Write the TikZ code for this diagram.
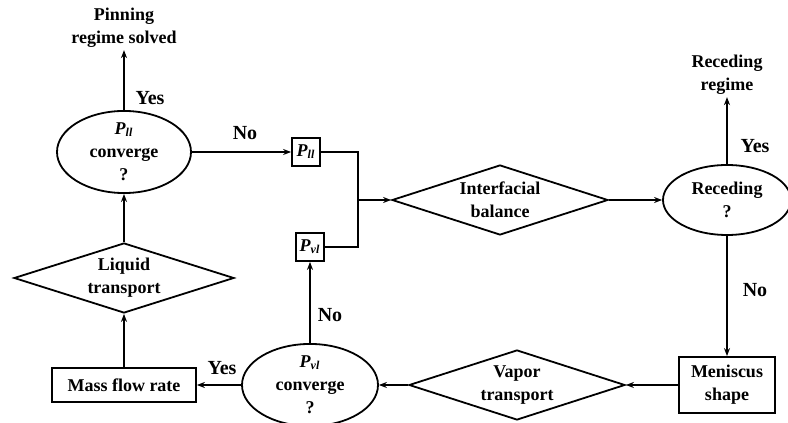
\documentclass[tikz,border=0pt]{standalone}
\usepackage{fontspec}
\setmainfont{Liberation Serif}
\usetikzlibrary{shapes.geometric,arrows.meta}
\newcommand{\pvar}[1]{\textit{P}\textsubscript{\textit{#1}}}
\tikzset{
    ellbox/.style={ellipse, draw, line width=0.9pt, inner sep=0pt, align=center,
        font=\fontsize{9}{11.5}\selectfont\bfseries},
    diabox/.style={diamond, draw, line width=0.9pt, inner sep=0pt, align=center, aspect=3,
        minimum width=108pt, minimum height=35pt, font=\fontsize{9}{11.5}\selectfont\bfseries},
    rectbox/.style={rectangle, draw, line width=0.9pt, inner sep=2pt, align=center,
        font=\fontsize{9}{11.5}\selectfont\bfseries},
    endtext/.style={align=center, inner sep=1pt, font=\fontsize{9}{11.5}\selectfont\bfseries},
    lbl/.style={font=\fontsize{10}{12}\selectfont\bfseries},
    flow/.style={-{Stealth[length=4pt,width=3pt]}, line width=0.7pt}
}
\begin{document}
\begin{tikzpicture}[x=0.5pt, y=0.5pt]
    \useasboundingbox (0,0) rectangle (788,423);
    % Top row: liquid pressure check and interfacial balance
    \node[endtext] (pin) at (124,395) {Pinning\\regime solved};
    \node[ellbox, minimum width=67pt, minimum height=36pt] (lconv) at (124,271) {\pvar{ll}\\converge\\?};
    \node[rectbox, minimum size=14pt, inner sep=1pt] (pll) at (306,271) {\pvar{ll}};
    \coordinate (jn) at (358,223);
    \node[diabox] (ibal) at (500,223) {Interfacial\\balance};
    \node[ellbox, minimum width=64pt, minimum height=35pt] (recd) at (727,223) {Receding\\?};
    \node[endtext] (recreg) at (727,348) {Receding\\regime};
    % Bottom row: meniscus and vapor side
    \node[rectbox, minimum width=48pt, minimum height=28pt] (menis) at (727,38) {Meniscus\\shape};
    \node[diabox] (vap) at (517,38) {Vapor\\transport};
    \node[ellbox, minimum width=68pt, minimum height=35pt] (vconv) at (310,38) {\pvar{vl}\\converge\\?};
    \node[rectbox, minimum size=14pt, inner sep=1pt] (pvl) at (310,176) {\pvar{vl}};
    \node[rectbox, minimum width=72pt, minimum height=17pt] (mass) at (124,38) {Mass flow rate};
    \node[diabox, minimum width=110pt] (liq) at (124,145) {Liquid\\transport};
    % Connectors
    \draw[flow] (lconv.north) -- (pin.south);
    \node[lbl] (yes1) at (150,325) {Yes};
    \draw[flow] (lconv.east) -- (pll.west);
    \node[lbl] (no1) at (245,290) {No};
    \draw[flow] (pll.east) -| (jn) -- (ibal.west);
    \draw[line width=0.7pt] (pvl.east) -| (jn);
    \draw[flow] (ibal.east) -- (recd.west);
    \draw[flow] (recd.north) -- (recreg.south);
    \node[lbl] (yes2) at (755,277) {Yes};
    \draw[flow] (recd.south) -- (menis.north);
    \node[lbl] (no2) at (755,133) {No};
    \draw[flow] (menis.west) -- (vap.east);
    \draw[flow] (vap.west) -- (vconv.east);
    \draw[flow] (vconv.north) -- (pvl.south);
    \node[lbl] (no3) at (330,108) {No};
    \draw[flow] (vconv.west) -- (mass.east);
    \node[lbl] (yes3) at (222,55) {Yes};
    \draw[flow] (mass.north) -- (liq.south);
    \draw[flow] (liq.north) -- (lconv.south);
\end{tikzpicture}
\end{document}
